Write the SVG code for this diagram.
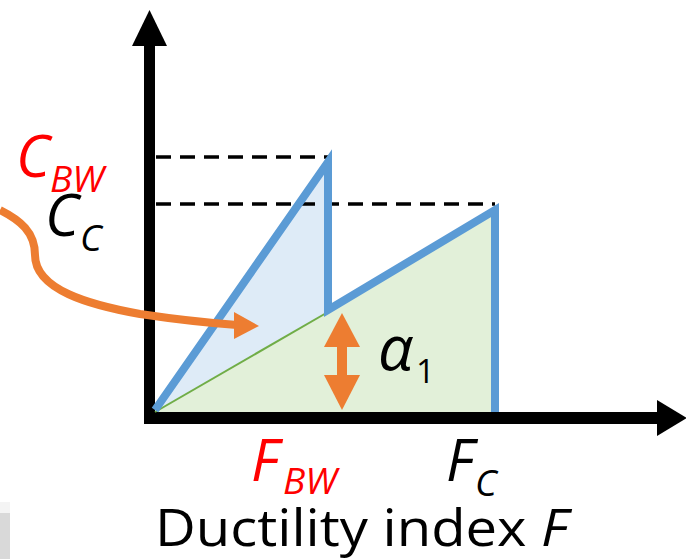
<svg xmlns="http://www.w3.org/2000/svg" width="686" height="559" viewBox="0 0 686 559">
<style>
.lbl{font-family:"Open Sans","Noto Sans",sans-serif;font-style:italic}
.main{font-size:58px}
.sub{font-size:37px}
.red{fill:#FF0000}
.blk{fill:#000000}
.axis{stroke:#000;stroke-width:11;fill:none}
.dash{stroke:#000;stroke-width:3.5;stroke-dasharray:15 9;fill:none}
.orange{fill:#ED7D31}
</style>
<rect width="686" height="559" fill="#FFFFFF"/>
<g id="artifact">
<rect x="0" y="502" width="10" height="11" fill="#F4F4F4"/>
<rect x="0" y="513" width="10" height="46" fill="#D9D9D9"/>
</g>
<g id="areas">
<polygon id="area-bw" points="155,412 328,160 328,312" fill="#DEEBF7"/>
<polygon id="area-c" points="155,412 328,312 495,210 495,412" fill="#E2F0D9"/>
</g>
<g id="guides">
<line class="dash" x1="156" y1="157" x2="330" y2="157"/>
<line class="dash" x1="156" y1="204" x2="495" y2="204"/>
</g>
<g id="axes">
<line class="axis" x1="149.5" y1="44" x2="149.5" y2="423"/>
<polygon points="132,46 149.5,10 167,46" fill="#000"/>
<line x1="144" y1="418" x2="658" y2="418" stroke="#000" stroke-width="12"/>
<polygon points="657,400 687,418 657,436" fill="#000"/>
</g>
<g id="curve">
<line x1="155" y1="412" x2="328" y2="312" stroke="#70AD47" stroke-width="2"/>
<polyline points="155,410 328,162 328,310 495,210 495,412" fill="none" stroke="#5B9BD5" stroke-width="8" stroke-linejoin="miter" stroke-miterlimit="10"/>
</g>
<g id="connectors">
<path d="M0,210 C20,220 35,232 35,255 C35,290 90,305 140,314 C180,320 210,323 237,325" fill="none" stroke="#ED7D31" stroke-width="8"/>
<polygon class="orange" points="234,312 259,326 234,339"/>
<g id="alpha-arrow">
<rect class="orange" x="337" y="345" width="10" height="32"/>
<polygon class="orange" points="342,313 360,347 324,347"/>
<polygon class="orange" points="324,375 360,375 342,410"/>
</g>
</g>
<g id="label-cbw"><text class="lbl red"><tspan class="main" x="16" y="177">C</tspan><tspan class="sub" x="50" y="192">BW</tspan></text></g>
<g id="label-cc"><text class="lbl blk"><tspan class="main" x="45" y="236">C</tspan><tspan class="sub" x="80" y="251">C</tspan></text></g>
<g id="label-alpha"><text class="lbl blk"><tspan x="378" y="370" font-size="62">α</tspan><tspan x="416" y="383" font-size="33" style="font-style:normal">1</tspan></text></g>
<g id="label-fbw"><text class="lbl red"><tspan class="main" x="251" y="481">F</tspan><tspan class="sub" x="283" y="494">BW</tspan></text></g>
<g id="label-fc"><text class="lbl blk"><tspan class="main" x="446" y="481">F</tspan><tspan class="sub" x="475" y="496">C</tspan></text></g>
<g id="label-axis"><text x="155" y="546" font-family="'Open Sans','Noto Sans',sans-serif" font-size="52" textLength="413" lengthAdjust="spacingAndGlyphs">Ductility index <tspan font-style="italic">F</tspan></text></g>
</svg>
